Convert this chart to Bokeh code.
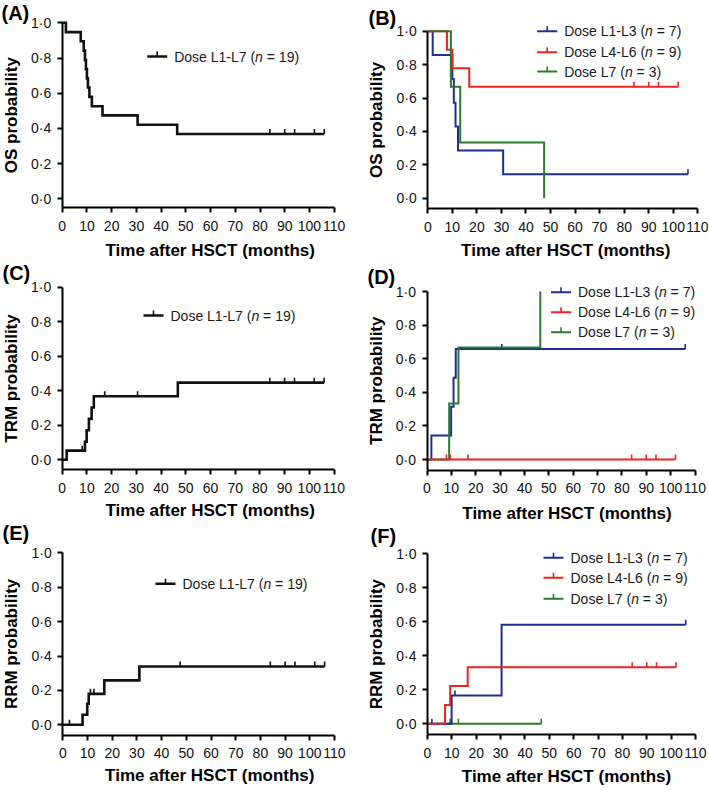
import math
from bokeh.plotting import figure
from bokeh.models import Label, FixedTicker, Range1d, CustomJSTickFormatter
from bokeh.layouts import column, row
from bokeh.embed import file_html
from bokeh.resources import INLINE

FONT = "Liberation Sans"
BLACK = "#111111"
BLUE = "#1f2d96"
RED = "#ee2220"
GREEN = "#2b7a2e"

# ---------------- data ----------------
x_ticks = [0, 10, 20, 30, 40, 50, 60, 70, 80, 90, 100, 110]
y_ticks = [0.0, 0.2, 0.4, 0.6, 0.8, 1.0]
x_title = "Time after HSCT (months)"

# (A) OS, all doses
os_all_t = [0, 1.5, 7.5, 8.7, 9.2, 9.6, 10.0, 10.4, 11.0, 12.0, 16.3, 30.5, 46.5, 106]
os_all_s = [1.0, 0.947, 0.895, 0.842, 0.789, 0.737, 0.684, 0.632, 0.579, 0.526, 0.474, 0.421, 0.368, 0.368]
os_all_cens = [84, 90, 94, 102, 106]

# (B) OS by dose group
os_l13_t = [0, 2.0, 10.0, 10.6, 11.3, 12.3, 30.7, 106]
os_l13_s = [1.0, 0.857, 0.714, 0.571, 0.429, 0.286, 0.143, 0.143]
os_l13_cens = [106]
os_l46_t = [0, 7.8, 10.0, 16.9, 102]
os_l46_s = [1.0, 0.889, 0.778, 0.667, 0.667]
os_l46_cens = [84, 90, 94, 102]
os_l7_t = [0, 9.4, 13.2, 47.4]
os_l7_s = [1.0, 0.667, 0.333, 0.0]
os_l7_cens = []

# (C) TRM, all doses
trm_all_t = [0, 1.8, 9.2, 9.9, 10.8, 11.9, 12.8, 46.8, 106]
trm_all_s = [0.0, 0.053, 0.105, 0.171, 0.237, 0.303, 0.368, 0.447, 0.447]
trm_all_cens_t = [8.1, 17.2, 30.5, 84, 90, 94, 102, 106]
trm_all_cens_s = [0.053, 0.368, 0.368, 0.447, 0.447, 0.447, 0.447, 0.447]

# (D) TRM by dose group
trm_l13_t = [0, 1.8, 9.9, 10.9, 11.8, 106]
trm_l13_s = [0.0, 0.143, 0.314, 0.486, 0.657, 0.657]
trm_l13_cens = [30.7, 106]
trm_l46_t = [0, 102]
trm_l46_s = [0.0, 0.0]
trm_l46_cens = [8.0, 9.5, 16.8, 84, 90, 94, 102]
trm_l7_t = [0, 9.1, 12.9, 46.5]
trm_l7_s = [0.0, 0.333, 0.667, 1.0]
trm_l7_cens = []

# (E) RRM, all doses
rrm_all_t = [0, 8.0, 9.9, 10.5, 16.8, 31.0, 106]
rrm_all_s = [0.0, 0.058, 0.122, 0.180, 0.258, 0.339, 0.339]
rrm_all_cens_t = [2.7, 11.2, 12.6, 47.5, 84, 90, 94, 102, 106]
rrm_all_cens_s = [0.0, 0.180, 0.180, 0.339, 0.339, 0.339, 0.339, 0.339, 0.339]

# (F) RRM by dose group
rrm_l13_t = [0, 9.9, 30.4, 106]
rrm_l13_s = [0.0, 0.167, 0.583, 0.583]
rrm_l13_cens_t = [1.8, 11.3, 106]
rrm_l13_cens_s = [0.0, 0.167, 0.583]
rrm_l46_t = [0, 7.2, 9.3, 16.5, 102]
rrm_l46_s = [0.0, 0.111, 0.222, 0.333, 0.333]
rrm_l46_cens = [84, 90, 94, 102]
rrm_l7_t = [0, 46.7]
rrm_l7_s = [0.0, 0.0]
rrm_l7_cens = [9.3, 12.7, 46.7]

group_names = ["Dose L1-L3", "Dose L4-L6", "Dose L7"]
group_n = ["7", "9", "3"]
all_name = "Dose L1-L7"
all_n = "19"

# ---------------- layout geometry (page pixels) ----------------
ROW_TOP = [0, 262, 522]
ROW_H = [262, 260, 267]
COL_LEFT = [0, 355]
COL_W = [355, 353]

GEO = {
    "A": dict(ax=61.7, x110=333.7, p1=22.3, p0=198.3, pax=207.0, lx=1, ly=12.0, xt=148, xty=43, leg=85, rows=[33.7]),
    "B": dict(ax=427.3, x110=697.3, p1=30.7, p0=197.7, pax=208.0, lx=368, ly=17.5, xt=138, xty=42, leg=109.4, rows=[0, 21, 40.3]),
    "C": dict(ax=61.7, x110=333.5, p1=286.7, p0=459.3, pax=469.3, lx=2, ly=271.5, xt=148, xty=41, leg=81.3, rows=[28.3]),
    "D": dict(ax=426.5, x110=694.5, p1=291.0, p0=459.0, pax=469.5, lx=367, ly=276.5, xt=140, xty=43, leg=124, rows=[0.7, 20.7, 40.7]),
    "E": dict(ax=62.3, x110=334.0, p1=552.3, p0=724.3, pax=734.5, lx=2, ly=532.5, xt=147, xty=40, leg=92.7, rows=[31]),
    "F": dict(ax=427.0, x110=695.0, p1=553.3, p0=723.3, pax=734.0, lx=370, ly=535.0, xt=139, xty=42, leg=116, rows=[4, 24, 45]),
}

ARIAL = {'D': .722, 'o': .556, 's': .5, 'e': .556, ' ': .278, 'L': .556, '-': .333,
         '(': .333, ')': .333, '=': .584, 'n': .556}


def text_w(t, size):
    return sum(ARIAL.get(ch, .556) for ch in t) * size


def make_panel(r, c, key, ytitle, series, legend_items):
    g = GEO[key]
    W, H = COL_W[c], ROW_H[r]
    axf = g["ax"] - COL_LEFT[c]
    sx = (g["x110"] - g["ax"]) / 110.0
    p1 = g["p1"] - ROW_TOP[r]
    p0 = g["p0"] - ROW_TOP[r]
    paxf = g["pax"] - ROW_TOP[r]
    s = p0 - p1

    def X(px):  # pixels right of the y axis -> data
        return px / sx

    def Y(py):  # pixels below the 1.0 level -> data
        return 1 - py / s

    ya = Y(paxf - p1)
    p = figure(width=W, height=H, x_range=Range1d(X(-axf), X(W - axf)),
               y_range=Range1d(Y(H - p1), Y(-p1)), output_backend="svg",
               toolbar_location=None, min_border=0)
    p.outline_line_color = None
    p.xgrid.visible = False
    p.ygrid.visible = False
    p.background_fill_color = "white"
    p.border_fill_color = "white"

    for axis in (p.xaxis[0], p.yaxis[0]):
        axis.axis_line_width = 2
        axis.axis_line_color = "black"
        axis.major_tick_line_width = 2
        axis.major_tick_line_color = "black"
        axis.major_tick_out = 5
        axis.major_tick_in = 0
        axis.minor_tick_line_color = None
        axis.major_label_text_font = FONT
        axis.major_label_text_font_size = "14px"
        axis.major_label_text_color = "#111111"
    p.xaxis.fixed_location = ya
    p.xaxis.bounds = (0, 110)
    p.yaxis.fixed_location = 0
    p.yaxis.bounds = (ya, 1.0)
    p.xaxis.ticker = FixedTicker(ticks=x_ticks)
    p.yaxis.ticker = FixedTicker(ticks=y_ticks)
    p.yaxis.formatter = CustomJSTickFormatter(code="return tick.toFixed(1).replace('.', '\u00b7');")
    p.xaxis.major_label_standoff = 8
    p.yaxis.major_label_standoff = 6

    tick_h = 5.0 / s
    for (t, v, ct, cv, color, lw) in series:
        p.step(t, v, mode="after", line_color=color, line_width=lw, line_join="miter")
        if ct:
            p.segment(x0=ct, y0=cv, x1=ct, y1=[yy + tick_h for yy in cv],
                      line_color=color, line_width=1.6)

    # panel letter
    fx = max(0.0, g["lx"] - COL_LEFT[c])
    fy = max(10.0, g["ly"] - ROW_TOP[r])
    p.add_layout(Label(x=X(fx - axf), y=Y(fy - p1), text="(" + key + ")",
                       text_font=FONT, text_font_size="20px", text_font_style="bold",
                       text_align="left", text_baseline="middle", text_color="black"))
    # y title
    ycx = max(10.0, axf - 51)
    ycy = (p1 + paxf) / 2.0
    p.add_layout(Label(x=X(ycx - axf), y=Y(ycy - p1), text=ytitle, angle=math.pi / 2,
                       text_font=FONT, text_font_size="17px", text_font_style="bold",
                       text_align="center", text_baseline="middle", text_color="black"))
    # x title
    p.add_layout(Label(x=X(g["xt"]), y=Y(paxf + g["xty"] - p1), text=x_title,
                       text_font=FONT, text_font_size="17px", text_font_style="bold",
                       text_align="center", text_baseline="middle", text_color="black"))

    # legend
    fs = 14
    for (name, n, color, lw), rowpx in zip(legend_items, g["rows"]):
        y = Y(rowpx)
        x0 = X(g["leg"])
        x1 = X(g["leg"] + 20)
        xm = X(g["leg"] + 10)
        p.segment(x0=[x0], y0=[y], x1=[x1], y1=[y], line_color=color, line_width=lw)
        p.segment(x0=[xm], y0=[y], x1=[xm], y1=[y + tick_h], line_color=color, line_width=1.6)
        tx = g["leg"] + 27
        pre = name + " ("
        p.add_layout(Label(x=X(tx), y=y, text=pre, text_font=FONT, text_font_size="14px",
                           text_align="left", text_baseline="middle", text_color="#1a1a1a"))
        tx2 = tx + text_w(pre, fs)
        p.add_layout(Label(x=X(tx2), y=y, text="n", text_font=FONT, text_font_size="14px",
                           text_font_style="italic", text_align="left", text_baseline="middle",
                           text_color="#1a1a1a"))
        tx3 = tx2 + text_w("n ", fs)
        p.add_layout(Label(x=X(tx3), y=y, text="= " + n + ")", text_font=FONT, text_font_size="14px",
                           text_align="left", text_baseline="middle", text_color="#1a1a1a"))
    return p


def cs(ts, val):
    return [val] * len(ts)


pA = make_panel(0, 0, "A", "OS probability",
                [(os_all_t, os_all_s, os_all_cens, cs(os_all_cens, os_all_s[-1]), BLACK, 2.6)],
                [(all_name, all_n, BLACK, 2.6)])
pB = make_panel(0, 1, "B", "OS probability",
                [(os_l13_t, os_l13_s, os_l13_cens, cs(os_l13_cens, os_l13_s[-1]), BLUE, 2.0),
                 (os_l46_t, os_l46_s, os_l46_cens, cs(os_l46_cens, os_l46_s[-1]), RED, 2.0),
                 (os_l7_t, os_l7_s, os_l7_cens, [], GREEN, 2.0)],
                [(group_names[0], group_n[0], BLUE, 2.0), (group_names[1], group_n[1], RED, 2.0),
                 (group_names[2], group_n[2], GREEN, 2.0)])
pC = make_panel(1, 0, "C", "TRM probability",
                [(trm_all_t, trm_all_s, trm_all_cens_t, trm_all_cens_s, BLACK, 2.6)],
                [(all_name, all_n, BLACK, 2.6)])
pD = make_panel(1, 1, "D", "TRM probability",
                [(trm_l13_t, trm_l13_s, trm_l13_cens, cs(trm_l13_cens, trm_l13_s[-1]), BLUE, 2.0),
                 (trm_l7_t, trm_l7_s, trm_l7_cens, [], GREEN, 2.0),
                 (trm_l46_t, trm_l46_s, trm_l46_cens, cs(trm_l46_cens, 0.0), RED, 2.0)],
                [(group_names[0], group_n[0], BLUE, 2.0), (group_names[1], group_n[1], RED, 2.0),
                 (group_names[2], group_n[2], GREEN, 2.0)])
pE = make_panel(2, 0, "E", "RRM probability",
                [(rrm_all_t, rrm_all_s, rrm_all_cens_t, rrm_all_cens_s, BLACK, 2.6)],
                [(all_name, all_n, BLACK, 2.6)])
pF = make_panel(2, 1, "F", "RRM probability",
                [(rrm_l7_t, rrm_l7_s, rrm_l7_cens, cs(rrm_l7_cens, 0.0), GREEN, 2.0),
                 (rrm_l13_t, rrm_l13_s, rrm_l13_cens_t, rrm_l13_cens_s, BLUE, 2.0),
                 (rrm_l46_t, rrm_l46_s, rrm_l46_cens, cs(rrm_l46_cens, rrm_l46_s[-1]), RED, 2.0)],
                [(group_names[0], group_n[0], BLUE, 2.0), (group_names[1], group_n[1], RED, 2.0),
                 (group_names[2], group_n[2], GREEN, 2.0)])

layout = column(row(pA, pB, spacing=0), row(pC, pD, spacing=0), row(pE, pF, spacing=0), spacing=0)

with open("out.html", "w") as f:
    f.write(file_html(layout, INLINE, title="Kaplan-Meier curves"))
